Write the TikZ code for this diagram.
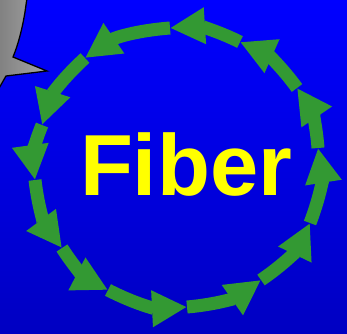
\documentclass[tikz,border=0pt]{standalone}
\usepackage{fontspec}
\setsansfont{Liberation Sans}
\usetikzlibrary{arrows.meta}
\definecolor{SkyTop}{HTML}{0000FF}
\definecolor{SkyBottom}{HTML}{0000C2}
\definecolor{Ring}{HTML}{339933}
\definecolor{Label}{HTML}{FFFF00}
\definecolor{BubbleDark}{HTML}{808080}
\definecolor{BubbleLight}{HTML}{A6A6A6}

\begin{document}
\begin{tikzpicture}[
  x=0.03cm, y=-0.03cm,
  ring/.style={
    -{Triangle[length=1.05cm,width=1.03cm]},
    line width=0.39cm,
    draw=Ring,
    bend right=15
  },
  bubble/.style={
    draw=black,
    line width=1.1pt,
    line join=miter,
    left color=BubbleDark,
    right color=BubbleLight
  },
  title/.style={
    text=Label,
    font=\sffamily\bfseries\fontsize{74}{74}\selectfont,
    inner sep=0pt,
    anchor=base
  }
]

\useasboundingbox (0,0) rectangle (347,333);
\shade[top color=SkyTop, bottom color=SkyBottom] (0,0) rectangle (347,333);

\path[bubble] (-2,-2) -- (27,-2) -- (25,12)
  .. controls (22,30) and (18,45) .. (13,57)
  -- (47,71) -- (6,76) -- (-2,90) -- cycle;

\coordinate (t1) at (170,28);
\coordinate (t2) at (85,58);
\coordinate (t3) at (42,125);
\coordinate (t4) at (35,180);
\coordinate (t5) at (62,248);
\coordinate (t6) at (108,290);
\coordinate (t7) at (187,307);
\coordinate (t8) at (261,280);
\coordinate (t9) at (310,223);
\coordinate (t10) at (318,148);
\coordinate (t11) at (297,88);
\coordinate (t12) at (240,42);

\draw[ring] (t1) to (t2);
\draw[ring] (t2) to (t3);
\draw[ring] (t3) to (t4);
\draw[ring] (t4) to (t5);
\draw[ring] (t5) to (t6);
\draw[ring] (t6) to (t7);
\draw[ring] (t7) to (t8);
\draw[ring] (t8) to (t9);
\draw[ring] (t9) to (t10);
\draw[ring] (t10) to (t11);
\draw[ring] (t11) to (t12);
\draw[ring] (t12) to (t1);

\node[title] (fiber) at (186,195) {Fiber};

\end{tikzpicture}
\end{document}
